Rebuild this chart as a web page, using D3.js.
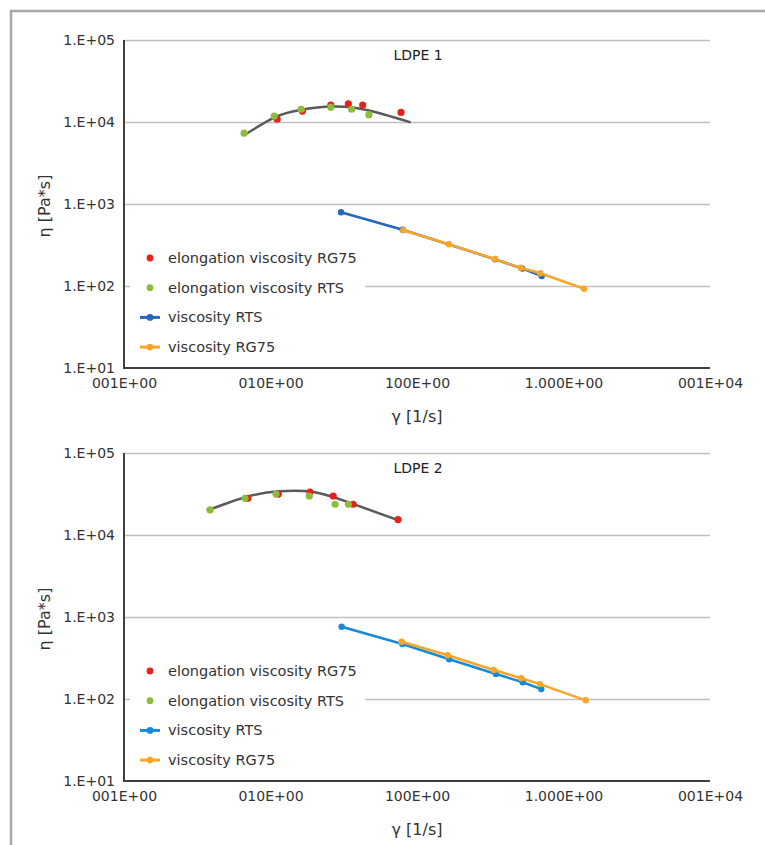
<!DOCTYPE html>
<html>
<head>
<meta charset="utf-8">
<script src="https://cdn.jsdelivr.net/npm/d3@7"></script>
<style>
  body { margin: 0; background: #fff; }
  svg { display: block; font-family: "DejaVu Sans", Verdana, sans-serif; }
</style>
</head>
<body>
<div id="chart"></div>
<script>
// axis ticks
var xTicks = [1, 10, 100, 1000, 10000];
var xTickLabels = ["001E+00", "010E+00", "100E+00", "1.000E+00", "001E+04"];
var yTicks = [10, 100, 1000, 10000, 100000];
var yTickLabels = ["1.E+01", "1.E+02", "1.E+03", "1.E+04", "1.E+05"];

var legendNames = ["elongation viscosity RG75", "elongation viscosity RTS", "viscosity RTS", "viscosity RG75"];

// LDPE 1
var elongRG75_1 = [[11.1, 10800], [16.5, 13600], [25.8, 16100], [34.0, 16600], [42.6, 16100], [77.8, 13100]];
var elongRTS_1  = [[6.6, 7300], [10.6, 11800], [16.2, 14300], [25.8, 15100], [35.8, 14300], [47.0, 12300]];
var trend_1     = [[6.6, 6900], [10.6, 11300], [15.9, 14000], [26.8, 15400], [45.3, 14000], [90.6, 9900]];
var viscRTS_1   = [[30.3, 793], [79.9, 486], [341, 212], [523, 163], [710, 132]];
var viscRG75_1  = [[80.6, 478], [165, 323], [341, 213], [510, 167], [695, 143], [1380, 92.7]];

// LDPE 2
var elongRG75_2 = [[7.0, 28000], [11.3, 31600], [18.6, 33400], [26.8, 29900], [36.7, 23700], [74.2, 15400]];
var elongRTS_2  = [[3.87, 20200], [6.7, 28000], [10.9, 31600], [18.4, 29900], [27.6, 23700], [34.0, 23700]];
var trend_2     = [[3.67, 19800], [6.88, 29300], [11.6, 34100], [19.6, 33400], [33.1, 25500], [74.2, 15200]];
var viscRTS_2   = [[30.6, 762], [79.4, 469], [166, 305], [346, 202], [527, 160], [705, 132]];
var viscRG75_2  = [[78.6, 500], [162, 341], [335, 226], [515, 179], [690, 152], [1419, 96.4]];

var W = 765, H = 845;
var plotW = 586, plotH = 328, left = 124;

var red = "#e3231c", green = "#8dbb3c", orange = "#f8a628", trendCol = "#5a5a5a";

var svg = d3.select("#chart").append("svg").attr("width", W).attr("height", H);

// outer frame
svg.append("path").attr("d", "M11," + H + "V11H" + W)
  .attr("fill", "none").attr("stroke", "#a9a9a9").attr("stroke-width", 2.5);

var x = d3.scaleLog().domain([1, 10000]).range([0, plotW]);
var y = d3.scaleLog().domain([10, 100000]).range([plotH, 0]);

function drawPanel(top, name, sets, blue) {
  var g = svg.append("g").attr("transform", "translate(" + left + "," + top + ")");

  // gridlines
  g.append("g")
    .call(d3.axisLeft(y).tickValues(yTicks.slice(1)).tickSize(-plotW).tickFormat(""))
    .call(s => s.select(".domain").remove())
    .selectAll("line").attr("stroke", "#c0c0c0").attr("stroke-width", 1.5);

  // y tick labels
  g.append("g")
    .call(d3.axisLeft(y).tickValues(yTicks).tickSize(0).tickPadding(9)
      .tickFormat((d, i) => yTickLabels[i]))
    .call(s => s.select(".domain").remove())
    .selectAll("text").attr("font-size", 14).attr("fill", "#333").style("font-family", "DejaVu Sans");

  // x tick labels
  g.append("g").attr("transform", "translate(0," + plotH + ")")
    .call(d3.axisBottom(x).tickValues(xTicks).tickSize(0).tickPadding(10)
      .tickFormat((d, i) => xTickLabels[i]))
    .call(s => s.select(".domain").remove())
    .selectAll("text").attr("font-size", 14).attr("fill", "#333").style("font-family", "DejaVu Sans");

  // axis lines
  g.append("path").attr("d", "M0,0V" + plotH + "H" + plotW)
    .attr("fill", "none").attr("stroke", "#404040").attr("stroke-width", 2);

  // titles
  g.append("text").attr("x", x(100)).attr("y", plotH + 54).attr("text-anchor", "middle")
    .attr("font-size", 16).attr("fill", "#333").text("γ [1/s]");
  g.append("text").attr("transform", "translate(" + (44 - left) + "," + (y(1000) + 2) + ") rotate(-90)")
    .attr("text-anchor", "middle").attr("dy", "0.35em")
    .attr("font-size", 16).attr("fill", "#333").text("η [Pa*s]");
  g.append("text").attr("x", 294).attr("y", 15).attr("text-anchor", "middle").attr("dy", "0.35em")
    .attr("font-size", 14).attr("fill", "#222").text(name);

  var line = d3.line().x(d => x(d[0])).y(d => y(d[1]));

  // trendline
  g.append("path").datum(sets.trend)
    .attr("d", line.curve(d3.curveNatural))
    .attr("fill", "none").attr("stroke", trendCol).attr("stroke-width", 2.5);
  line.curve(d3.curveLinear);

  // elongation points
  [[sets.elongRG75, red], [sets.elongRTS, green]].forEach(function(p) {
    g.append("g").selectAll("circle").data(p[0]).join("circle")
      .attr("cx", d => x(d[0])).attr("cy", d => y(d[1])).attr("r", 3.6).attr("fill", p[1]);
  });

  // shear viscosity lines
  [[sets.viscRTS, blue], [sets.viscRG75, orange]].forEach(function(p) {
    g.append("path").datum(p[0]).attr("d", line)
      .attr("fill", "none").attr("stroke", p[1]).attr("stroke-width", 2.5);
    g.append("g").selectAll("circle").data(p[0]).join("circle")
      .attr("cx", d => x(d[0])).attr("cy", d => y(d[1])).attr("r", 3.2).attr("fill", p[1]);
  });

  // legend
  var lg = g.append("g").attr("transform", "translate(6,203)");
  lg.append("rect").attr("width", 235).attr("height", 118).attr("fill", "#fff");
  var cols = [red, green, blue, orange];
  legendNames.forEach(function(n, i) {
    var row = lg.append("g").attr("transform", "translate(0," + (15 + i * 29.7) + ")");
    if (i >= 2) {
      row.append("line").attr("x1", 10).attr("x2", 30).attr("stroke", cols[i]).attr("stroke-width", 3);
    }
    row.append("circle").attr("cx", 20).attr("r", 3.4).attr("fill", cols[i]);
    row.append("text").attr("x", 38).attr("dy", "0.35em").attr("font-size", 14.5)
      .attr("fill", "#333").text(n);
  });
}

drawPanel(40, "LDPE 1", {
  elongRG75: elongRG75_1, elongRTS: elongRTS_1, trend: trend_1,
  viscRTS: viscRTS_1, viscRG75: viscRG75_1
}, "#2467bd");

drawPanel(453, "LDPE 2", {
  elongRG75: elongRG75_2, elongRTS: elongRTS_2, trend: trend_2,
  viscRTS: viscRTS_2, viscRG75: viscRG75_2
}, "#168ad6");
</script>
</body>
</html>
